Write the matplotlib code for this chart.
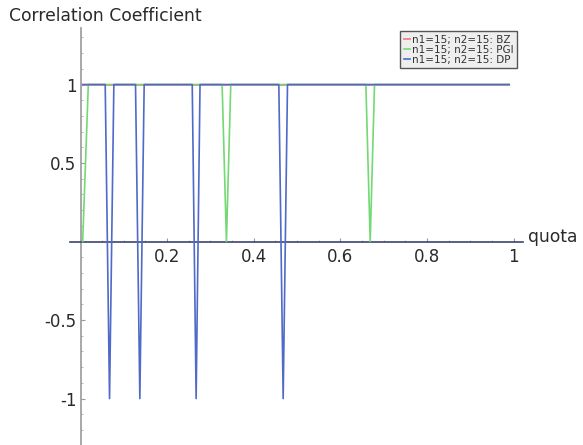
import matplotlib
matplotlib.use('Agg')
import matplotlib.pyplot as plt
from matplotlib.ticker import FixedLocator, MultipleLocator

# series (quota -> correlation coefficient)
bz_quota = [0.005, 0.99]
bz_corr = [1, 1]

pgi_quota = [0.005, 0.018, 0.327, 0.337, 0.347, 0.659, 0.669, 0.679, 0.99]
pgi_corr = [0, 1, 1, 0, 1, 1, 0, 1, 1]

dp_quota = [0.005, 0.057, 0.067, 0.077, 0.127, 0.137, 0.147,
            0.258, 0.267, 0.276, 0.458, 0.468, 0.478, 0.99]
dp_corr = [1, 1, -1, 1, 1, -1, 1, 1, -1, 1, 1, -1, 1, 1]

x_ticks = [0.2, 0.4, 0.6, 0.8, 1.0]
x_tick_labels = ['0.2', '0.4', '0.6', '0.8', '1']
y_ticks = [-1, -0.5, 0.5, 1]
y_tick_labels = ['-1', '-0.5', '0.5', '1']

labels = ['n1=15; n2=15: BZ', 'n1=15; n2=15: PGI', 'n1=15; n2=15: DP']

W, H = 583, 445
fig = plt.figure(figsize=(W / 100, H / 100), dpi=100)
# axes box in pixels: x 70..523, y 28..445
ax = fig.add_axes([70 / W, 0, 453 / W, (445 - 28) / H])

ax.plot(bz_quota, bz_corr, color='#f58a8a', lw=1.4, label=labels[0], zorder=2)
ax.plot(pgi_quota, pgi_corr, color='#74d874', lw=1.2, label=labels[1], zorder=3)
ax.plot(dp_quota, dp_corr, color='#4f6ac8', lw=1.2, label=labels[2], zorder=4)

ax.set_xlim(-0.0243, 1.0219)
ax.set_ylim(-1.296, 1.360)

# sage style axes crossing at the origin
ax.spines['top'].set_visible(False)
ax.spines['right'].set_visible(False)
ax.spines['left'].set_position(('data', 0))
ax.spines['bottom'].set_position(('data', 0))
ax.spines['left'].set_color('#999999')
ax.spines['bottom'].set_color('#3c4470')
ax.spines['left'].set_linewidth(1.2)
ax.spines['bottom'].set_linewidth(1.2)

ax.xaxis.set_major_locator(FixedLocator(x_ticks))
ax.set_xticklabels(x_tick_labels)
ax.xaxis.set_minor_locator(MultipleLocator(0.05))
ax.yaxis.set_major_locator(FixedLocator(y_ticks))
ax.set_yticklabels(y_tick_labels)
ax.yaxis.set_minor_locator(MultipleLocator(0.1))

ax.tick_params(which='major', direction='in', length=3, width=0.8,
               colors='#999999', labelcolor='#2a2a2a', labelsize=12)
ax.tick_params(axis='x', which='major', pad=5)
ax.tick_params(axis='y', which='major', pad=3)
ax.tick_params(which='minor', direction='in', length=1.5, width=0.6,
               colors='#aaaaaa')
ax.patch.set_visible(False)

fig.text(9 / W, 1 - 16 / H, 'Correlation Coefficient', fontsize=12.3,
         color='#2a2a2a', va='center', ha='left')
fig.text(528 / W, 1 - 237 / H, 'quota', fontsize=12.3, color='#2a2a2a',
         va='center', ha='left')

leg = ax.legend(loc='upper left', bbox_to_anchor=(400 / W, 1 - 31 / H),
                bbox_transform=fig.transFigure, fontsize=7.5,
                handlelength=0.6, handletextpad=0.2, borderpad=0.35,
                labelspacing=0.0, fancybox=False, framealpha=1,
                borderaxespad=0)
leg.get_frame().set_facecolor('#eeeeee')
leg.get_frame().set_edgecolor('#555555')
for t in leg.get_texts():
    t.set_color('#333333')

fig.savefig('out.png', dpi=100)
